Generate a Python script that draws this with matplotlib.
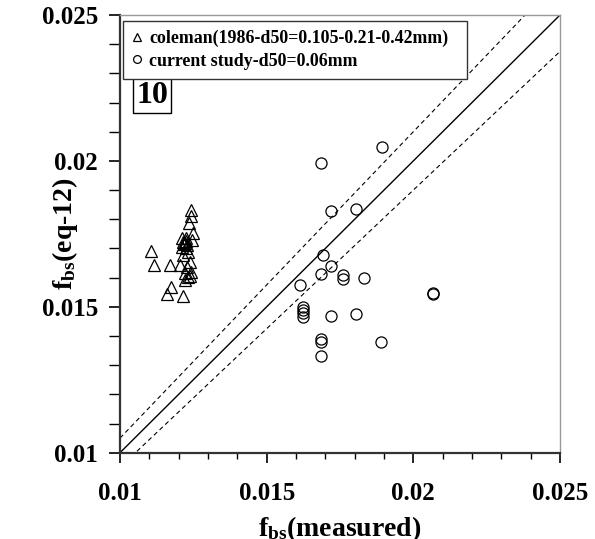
import numpy as np
import matplotlib
matplotlib.use("Agg")
import matplotlib.pyplot as plt
from matplotlib.ticker import MultipleLocator

plt.rcParams["font.family"] = ["Liberation Serif", "DejaVu Serif"]
plt.rcParams["font.weight"] = "bold"
plt.rcParams["mathtext.fontset"] = "custom"
plt.rcParams["mathtext.rm"] = "Liberation Serif:bold"
plt.rcParams["mathtext.it"] = "Liberation Serif:bold"
plt.rcParams["mathtext.bf"] = "Liberation Serif:bold"

# coleman (1986) data: measured vs eq-12
coleman_meas = [0.01105, 0.01117, 0.01170, 0.01173, 0.01161, 0.01216,
                0.01242, 0.01242, 0.01235, 0.01250, 0.01212, 0.01225,
                0.01215, 0.01245, 0.01220, 0.01230, 0.01212, 0.01225,
                0.01232, 0.01215, 0.01240, 0.01205, 0.01228, 0.01243,
                0.01222, 0.01238, 0.01232, 0.01220, 0.01226, 0.01218]
coleman_eq12 = [0.01691, 0.01643, 0.01643, 0.01569, 0.01544, 0.01537,
                0.01832, 0.01811, 0.01786, 0.01754, 0.01735, 0.01735,
                0.01723, 0.01729, 0.01720, 0.01712, 0.01706, 0.01700,
                0.01689, 0.01678, 0.01655, 0.01643, 0.01637, 0.01620,
                0.01615, 0.01606, 0.01601, 0.01592, 0.01725, 0.01715]

# current study data
study_meas = [0.01892, 0.01685, 0.01718, 0.01805, 0.01693, 0.01718,
              0.01685, 0.01759, 0.01759, 0.01833, 0.01614, 0.02067,
              0.02067, 0.01625, 0.01625, 0.01625, 0.01625, 0.01718,
              0.01805, 0.01685, 0.01685, 0.01685, 0.01890]
study_eq12 = [0.02049, 0.01992, 0.01828, 0.01835, 0.01678, 0.01641,
              0.01612, 0.01609, 0.01594, 0.01600, 0.01575, 0.01548,
              0.01544, 0.01500, 0.01489, 0.01478, 0.01466, 0.01469,
              0.01474, 0.01389, 0.01378, 0.01331, 0.01380]

line_x = [0.01, 0.025]
band = 0.05

fig = plt.figure(figsize=(5.95, 5.39), dpi=100)
ax = fig.add_axes([120 / 595, 1 - 452.7 / 539, 440 / 595, 437.7 / 539])

x = np.array(line_x)
ax.plot(x, x, color="black", lw=1.0)
ax.plot(x, x * (1 + band), color="black", lw=0.8, ls=(0, (4, 3)))
ax.plot(x, x * (1 - band), color="black", lw=0.8, ls=(0, (4, 3)))

ax.plot(coleman_meas, coleman_eq12, ls="none", marker="^", ms=9,
        mfc="none", mec="black", mew=0.9,
        label="coleman(1986-d50=0.105-0.21-0.42mm)")
ax.plot(study_meas, study_eq12, ls="none", marker="o", ms=8,
        mfc="none", mec="black", mew=0.9,
        label="current study-d50=0.06mm")

ax.set_xlim(0.01, 0.025)
ax.set_ylim(0.01, 0.025)
ax.xaxis.set_minor_locator(MultipleLocator(0.001))
ax.yaxis.set_minor_locator(MultipleLocator(0.001))
ax.set_xticks([0.01, 0.015, 0.02, 0.025])
ax.set_xticklabels(["0.01", "0.015", "0.02", "0.025"])
ax.set_yticks([0.01, 0.015, 0.02, 0.025])
ax.set_yticklabels(["0.01", "0.015", "0.02", "0.025"])

ax.tick_params(axis="x", which="major", direction="out", length=7, width=1.2,
               labelsize=18, pad=14)
ax.tick_params(axis="x", which="minor", direction="out", length=4, width=1.0)
ax.tick_params(axis="y", which="major", direction="out", length=8, width=1.2,
               labelsize=18, pad=8)
ax.tick_params(axis="y", which="minor", direction="out", length=8, width=1.0)

for s in ["left", "bottom"]:
    ax.spines[s].set_color("#333333")
    ax.spines[s].set_linewidth(1.6)
for s in ["top", "right"]:
    ax.spines[s].set_color("#999999")
    ax.spines[s].set_linewidth(1.0)

ax.set_xlabel(r"f$_{\mathrm{bs}}$(measured)", fontsize=20, fontweight="bold")
ax.set_ylabel(r"f$_{\mathrm{bs}}$(eq-12)", fontsize=20, fontweight="bold")
ax.xaxis.set_label_coords(0.5, -0.14)
ax.yaxis.set_label_coords(-0.125, 0.5)
ax.yaxis.label.set_va("center")

# legend box stretched to the width it has in the original
leg = ax.legend(loc="upper left", bbox_to_anchor=(0.007, 0.5, 0.782, 0.487),
                mode="expand", borderaxespad=0, fontsize=12.9,
                handlelength=0.6, handletextpad=0.35, markerscale=0.7,
                fancybox=False, edgecolor="#333333", framealpha=1,
                borderpad=0.5, labelspacing=0.32)
leg.get_frame().set_linewidth(1.0)

ax.text(0.037, 0.817, "10", transform=ax.transAxes, fontsize=23,
        fontweight="bold", va="center", ha="left",
        bbox=dict(boxstyle="square,pad=0.1", fc="white", ec="black", lw=1.0))

fig.savefig("out.png", dpi=100)
